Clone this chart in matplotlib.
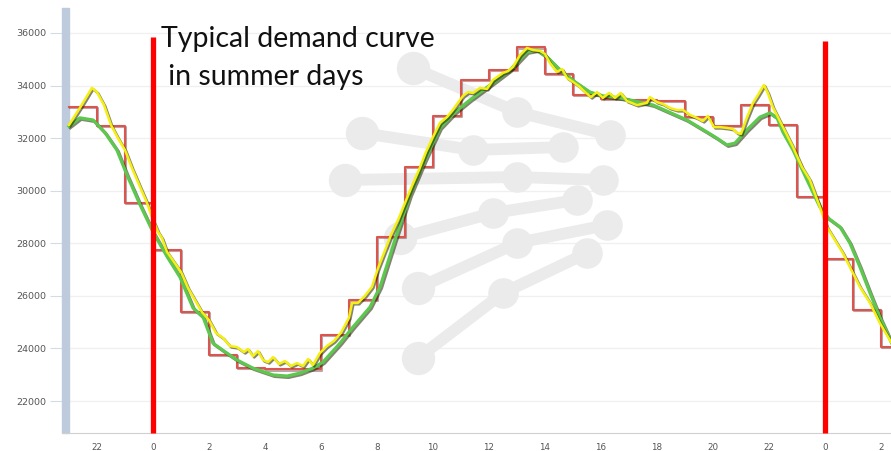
import matplotlib
matplotlib.use("Agg")
import matplotlib.pyplot as plt
import matplotlib.patheffects as pe
from matplotlib.patches import Rectangle

# ---------------- data ----------------
# hourly step values (hour start -> load, MW)
step_hours = [-3, -2, -1, 0, 1, 2, 3, 4, 5, 6, 7, 8, 9, 10, 11, 12, 13, 14,
              15, 16, 17, 18, 19, 20, 21, 22, 23, 24, 25, 26, 27]
step_load = [33200, 32450, 29550, 27750, 25400, 23750, 23250, 23200, 23200,
             24500, 25850, 28250, 30900, 32850, 34200, 34600, 35450, 34450,
             33650, 33500, 33450, 33400, 32800, 32450, 33250, 32500, 29750,
             27400, 25450, 24050, 24050]

# real demand (yellow)
real_hours = [-3.0, -2.61, -2.18, -2.0, -1.75, -1.5, -1.25, -1.0, -0.75, -0.46,
              -0.21, 0.0, 0.18, 0.32, 0.5, 0.75, 1.0, 1.25, 1.5, 1.75, 2.0,
              2.25, 2.5, 2.75, 3.0, 3.25, 3.39, 3.57, 3.75, 3.93, 4.11, 4.29,
              4.5, 4.71, 4.93, 5.14, 5.36, 5.54, 5.71, 5.96, 6.21, 6.46, 6.71,
              7.0, 7.11, 7.32, 7.57, 7.82, 8.04, 8.29, 8.5, 8.75, 9.0, 9.25,
              9.5, 9.75, 10.0, 10.25, 10.5, 10.68, 10.89, 11.07, 11.25, 11.43,
              11.68, 11.93, 12.14, 12.5, 12.68, 12.86, 13.11, 13.36, 13.57,
              13.82, 14.0, 14.18, 14.43, 14.61, 14.79, 15.0, 15.21, 15.43,
              15.64, 15.86, 16.07, 16.29, 16.5, 16.71, 16.93, 17.29, 17.64,
              17.75, 18.0, 18.21, 18.46, 18.71, 18.93, 19.18, 19.43, 19.64,
              19.82, 20.04, 20.25, 20.5, 20.71, 20.86, 21.0, 21.21, 21.43,
              21.61, 21.82, 21.96, 22.14, 22.5, 22.86, 23.18, 23.46, 23.82,
              24.07, 24.29, 24.64, 25.0, 25.25, 25.61, 25.96, 26.32, 26.45]
real_load = [32500, 33150, 33910, 33750, 33260, 32500, 32000, 31550, 30860,
             30140, 29530, 28880, 28430, 28200, 27670, 27290, 26910, 26300,
             25840, 25380, 25080, 24590, 24400, 24090, 24050, 23860, 23980,
             23710, 23900, 23560, 23480, 23670, 23410, 23520, 23330, 23440,
             23330, 23600, 23370, 23820, 24090, 24280, 24590, 25160, 25730,
             25730, 26000, 26340, 27060, 27740, 28310, 28880, 29530, 30180,
             30790, 31470, 32040, 32580, 32800, 33030, 33340, 33600, 33750,
             33720, 33910, 33870, 34210, 34480, 34550, 34710, 35160, 35430,
             35350, 35320, 35200, 34860, 34520, 34630, 34290, 34140, 33980,
             33760, 33560, 33750, 33530, 33720, 33530, 33720, 33410, 33260,
             33340, 33560, 33370, 33300, 33150, 33070, 33070, 32880, 32770,
             32650, 32840, 32420, 32420, 32390, 32350, 32200, 32160, 32770,
             33340, 33640, 34020, 33720, 33180, 32420, 31660, 30900, 30410,
             29380, 28620, 28240, 27630, 26870, 26340, 25730, 24970, 24320,
             24100]

# forecast (green)
fc_hours = [-3.0, -2.61, -2.14, -1.71, -1.29, -0.93, -0.46, 0.0, 0.5, 0.96,
            1.43, 1.79, 2.14, 2.6, 3.0, 3.57, 4.29, 4.79, 5.25, 5.71, 6.07,
            6.68, 7.14, 7.75, 8.11, 8.64, 9.18, 9.71, 10.25, 10.79, 11.32,
            12.04, 12.75, 13.36, 13.71, 14.07, 14.54, 15.07, 15.61, 16.1,
            16.68, 17.86, 19.07, 19.79, 20.14, 20.5, 20.79, 21.21, 21.68,
            22.04, 22.29, 22.5, 22.86, 23.36, 23.82, 24.11, 24.54, 24.89,
            25.25, 25.61, 25.96, 26.45]
fc_load = [32450, 32770, 32690, 32200, 31550, 30600, 29460, 28430, 27500,
           26720, 25540, 25190, 24200, 23850, 23560, 23250, 22990, 22950,
           23060, 23250, 23480, 24200, 24810, 25570, 26340, 28120, 29840,
           31170, 32390, 32990, 33450, 34020, 34590, 35280, 35350, 35090,
           34590, 34140, 33750, 33600, 33530, 33260, 32690, 32230, 32000,
           31740, 31810, 32310, 32800, 32960, 32770, 32230, 31550, 30410,
           29380, 28960, 28620, 28010, 27100, 26110, 25190, 24050]

tick_hours = [-2, 0, 2, 4, 6, 8, 10, 12, 14, 16, 18, 20, 22, 24, 26]
tick_labels = [str(h % 24) for h in tick_hours]
y_ticks = [22000, 24000, 26000, 28000, 30000, 32000, 34000, 36000]

marker_hours = [0, 24]
marker_tops = [35850, 35700]

title_lines = ["Typical demand curve", " in summer days"]

# ---------------- figure ----------------
W, H = 891, 451
fig = plt.figure(figsize=(W / 100, H / 100), dpi=100)
fig.patch.set_facecolor("white")
ax = fig.add_axes([62 / W, (H - 433) / H, 1 - 62 / W, (433 - 8) / H])
ax.set_xlim(-3.25, 26.36)
ax.set_ylim(20783, 36950)

for s in ["top", "right", "left"]:
    ax.spines[s].set_visible(False)
ax.spines["bottom"].set_color("#d0d0d0")
ax.set_yticks(y_ticks)
ax.set_yticklabels([str(v) for v in y_ticks])
ax.set_xticks(tick_hours)
ax.set_xticklabels(tick_labels)
ax.tick_params(axis="y", length=9, color="#d5dbe3", pad=2, labelsize=6.8,
               labelcolor="#555555")
ax.tick_params(axis="x", length=0, pad=7, labelsize=6.3, labelcolor="#555555")
ax.grid(axis="y", color="#f0f0f0", lw=1, zorder=0)
ax.set_axisbelow(True)

# left blue band
ax.add_patch(Rectangle((0, 0), 7 / 829, 1, transform=ax.transAxes,
                       color="#bdcbdc", zorder=1, clip_on=False))

# watermark (decorative)
chains = [
    [(413, 68), (517, 112), (610, 135)],
    [(362, 133), (473, 150), (563, 147)],
    [(345, 180), (517, 177), (603, 180)],
    [(400, 238), (493, 213), (577, 200)],
    [(418, 288), (517, 243), (607, 225)],
    [(418, 358), (503, 293), (587, 253)],
]
wm = "#ebebeb"
for ch in chains:
    xs = [p[0] / W for p in ch]
    ys = [1 - p[1] / H for p in ch]
    ax.plot(xs, ys, "-", color=wm, lw=8.5, transform=fig.transFigure,
            solid_capstyle="round", zorder=1.5, clip_on=False)
    ax.plot(xs[1:], ys[1:], "o", color=wm, ms=21,
            transform=fig.transFigure, zorder=1.5, clip_on=False)
    ax.plot(xs[:1], ys[:1], "o", color=wm, ms=23,
            transform=fig.transFigure, zorder=1.5, clip_on=False)

shadow = [pe.SimpleLineShadow(offset=(1.0, -1.0), shadow_color="#202000",
                              alpha=0.55), pe.Normal()]

ax.step(step_hours, step_load, where="post", color="#d9554f", lw=1.5,
        zorder=3, path_effects=[pe.SimpleLineShadow(offset=(0.8, -0.8),
                                                    shadow_color="#400000",
                                                    alpha=0.35), pe.Normal()])
ax.plot(fc_hours, fc_load, color="#5cc84e", lw=2.3, zorder=4,
        solid_joinstyle="round", path_effects=shadow)
ax.plot(real_hours, real_load, color="#f5f012", lw=1.8, zorder=5,
        solid_joinstyle="round", path_effects=shadow)

# red vertical markers
ylo = ax.get_ylim()[0]
for h, top in zip(marker_hours, marker_tops):
    ax.vlines(h, ylo, top, color="#ff0000", lw=3.8, zorder=6, clip_on=False)

fig.text(161 / W, 1 - 47 / H, title_lines[0], fontsize=20.5, family="Lato",
         va="baseline", ha="left", color="#111111")
fig.text(161 / W, 1 - 85 / H, title_lines[1], fontsize=20.5, family="Lato",
         va="baseline", ha="left", color="#111111")

fig.savefig("out.png", dpi=100)
